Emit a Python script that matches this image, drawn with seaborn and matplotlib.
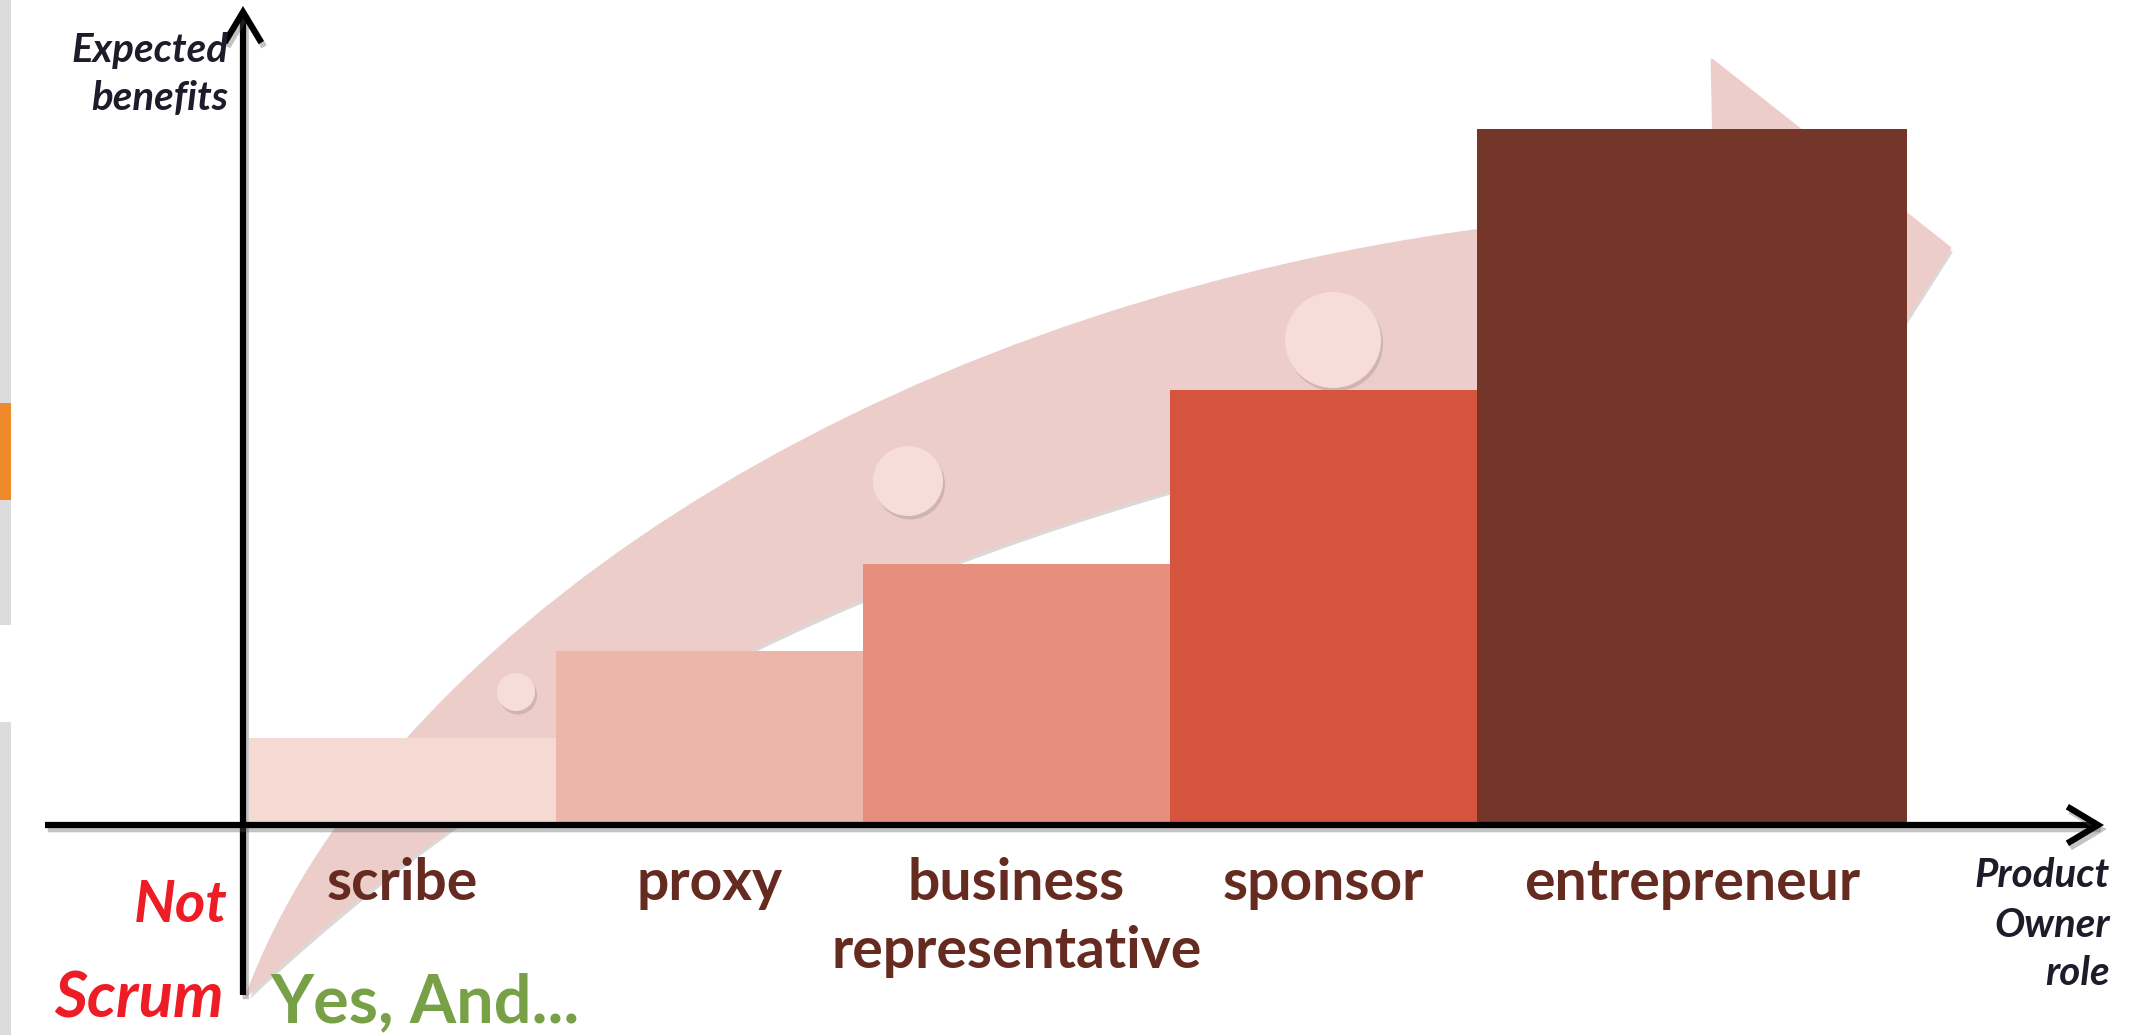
import matplotlib
matplotlib.use("Agg")
import matplotlib.pyplot as plt
import matplotlib.patheffects as pe
from matplotlib.path import Path
from matplotlib.patches import PathPatch, Circle, Rectangle, FancyArrowPatch
import seaborn as sns
import pandas as pd

# ---------------- data ----------------
categories = ["scribe", "proxy", "business", "sponsor", "entrepreneur"]
tick_labels = ["scribe", "proxy", "business\nrepresentative", "sponsor", "entrepreneur"]
benefits = [1, 2, 3, 5, 8]
bar_colors = ["#f5d9d3", "#edb6ab", "#e68f7f", "#d4543d", "#743629"]
y_axis_label = ["Expected", "benefits"]
x_axis_label = ["Product", "Owner", "role"]

# ---------------- style ----------------
sns.set_style("white")
plt.rcParams["font.family"] = ["Lato", "DejaVu Sans"]

W, H = 2131, 1035
AX_X = 243          # y-axis pixel column
BASE_Y = 825        # baseline pixel row
PX_X = 307          # pixels per category
PX_Y = 87           # pixels per benefit unit
ENTRE_W = 1.4       # wider last bar

fig = plt.figure(figsize=(W / 100, H / 100), dpi=100)
fig.patch.set_facecolor("white")

# background decoration axes (pixel coordinates, y down)
bg = fig.add_axes([0, 0, 1, 1], zorder=0)
bg.set_xlim(0, W); bg.set_ylim(H, 0); bg.axis("off")

# left slide strip
bg.add_patch(Rectangle((0, 0), 11, 625, color="#dcdcde", lw=0))
bg.add_patch(Rectangle((0, 403), 11, 97, color="#ef8a2c", lw=0))
bg.add_patch(Rectangle((0, 722), 11, H - 722, color="#dcdcde", lw=0))

# curved growth arrow (decoration)
verts = [(247, 995),
         (375, 650), (850, 315), (1480, 230),
         (1715, 205), (1712, 60), (1950, 248), (1790, 500), (1745, 405), (1480, 415),
         (950, 520), (560, 700), (247, 995),
         (247, 995)]
codes = ([Path.MOVETO] + [Path.CURVE4] * 3 + [Path.LINETO] * 6 + [Path.CURVE4] * 3
         + [Path.CLOSEPOLY])
band = PathPatch(Path(verts, codes), facecolor="#eccdca", edgecolor="#eccdca",
                 lw=2, joinstyle="round")
band.set_path_effects([pe.SimplePatchShadow(offset=(2, -3), shadow_rgbFace="#8c8080",
                                            alpha=0.3), pe.Normal()])
bg.add_patch(band)
for (cx, cy, r) in [(516, 692, 19), (908, 481, 35), (1333, 340, 48)]:
    c = Circle((cx, cy), r, facecolor="#f7ddd7", edgecolor="none")
    c.set_path_effects([pe.SimplePatchShadow(offset=(1.5, -2.5), shadow_rgbFace="#9a8686",
                                             alpha=0.35), pe.Normal()])
    bg.add_patch(c)

# bar axes
left = AX_X / W
bottom = (H - BASE_Y) / H
ax = fig.add_axes([left, bottom, (W - AX_X) / W, BASE_Y / H], zorder=1)
ax.patch.set_alpha(0)
df = pd.DataFrame({"role": categories, "benefit": benefits})
sns.barplot(data=df, x="role", y="benefit", hue="role", palette=bar_colors,
            order=categories, hue_order=categories, legend=False, width=1.0,
            saturation=1, linewidth=0, ax=ax)
x0 = -0.5 - 6 / PX_X
ax.set_xlim(x0, x0 + (W - AX_X) / PX_X)
ax.set_ylim(0, BASE_Y / PX_Y)
ax.axis("off")

bars = sorted(ax.patches, key=lambda p: p.get_x())
bars[-1].set_width(ENTRE_W)

label_color = "#652a20"
for p, lab in zip(bars, tick_labels):
    xc = p.get_x() + p.get_width() / 2
    for k, line in enumerate(lab.split("\n")):
        ax.text(xc, -(883 + 68 * k - BASE_Y) / PX_Y, line, ha="center", va="center",
                fontsize=41, fontweight="bold", color=label_color, clip_on=False)

# foreground: axes arrows and annotations (pixel coordinates)
fg = fig.add_axes([0, 0, 1, 1], zorder=2)
fg.set_xlim(0, W); fg.set_ylim(H, 0); fg.axis("off")
fg.patch.set_alpha(0)

shadow = [pe.SimpleLineShadow(offset=(2, -3), shadow_color="#555555", alpha=0.35),
          pe.Normal()]
for start, end in [((AX_X, 995), (AX_X, 6)), ((45, BASE_Y), (2104, BASE_Y))]:
    arr = FancyArrowPatch(start, end, arrowstyle="->,head_length=1.0,head_width=0.6",
                          mutation_scale=22, lw=4.5, color="black",
                          shrinkA=0, shrinkB=0, capstyle="butt", joinstyle="miter")
    arr.set_path_effects(shadow)
    fg.add_patch(arr)

axis_txt = dict(fontsize=29, fontweight="bold", fontstyle="italic", color="#1c1c2a",
                ha="right", va="baseline")
for txt, yb in zip(y_axis_label, [62, 110]):
    fg.text(228, yb, txt, **axis_txt)
for txt, yb in zip(x_axis_label, [887, 937, 985]):
    fg.text(2110, yb, txt, **axis_txt)

fg.text(227, 905, "Not", fontsize=42, fontweight="bold", fontstyle="italic",
        color="#ee1c25", ha="right", va="center")
fg.text(224, 999, "Scrum", fontsize=46, fontweight="bold", fontstyle="italic",
        color="#ee1c25", ha="right", va="center")
fg.text(270, 1003, "Yes, And...", fontsize=48, fontweight="bold",
        color="#78a046", ha="left", va="center")

fig.savefig("out.png", dpi=100, facecolor="white")
